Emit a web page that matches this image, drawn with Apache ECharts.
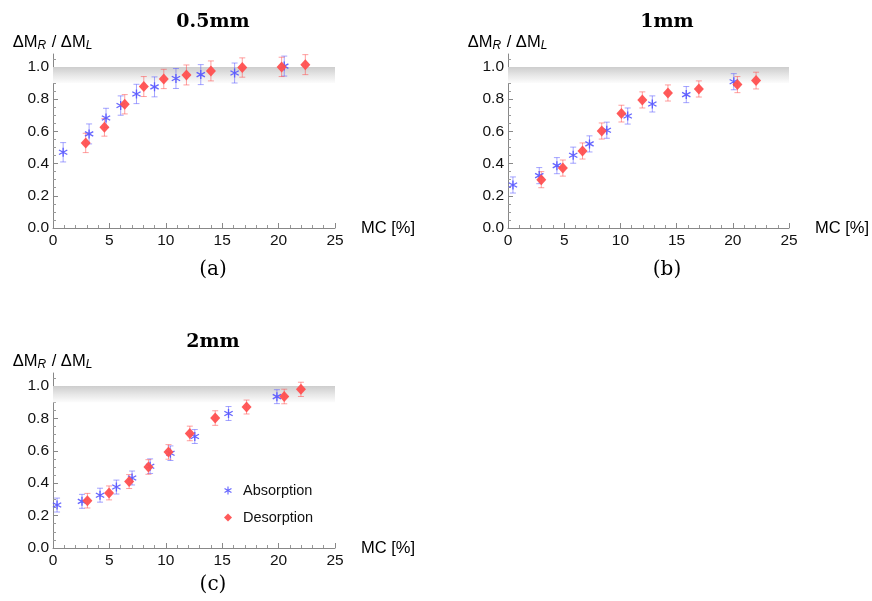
<!DOCTYPE html>
<html>
<head>
<meta charset="utf-8">
<script src="https://cdn.jsdelivr.net/npm/echarts@6/dist/echarts.min.js"></script>
<style>
  html, body { margin: 0; background: #fff; }
  #chart { width: 872px; height: 601px; }
</style>
</head>
<body>
<div id="chart"></div>
<script>
// panel text
const panelTitles = ['0.5mm', '1mm', '2mm']
const panelCaptions = ['(a)', '(b)', '(c)']
const yTickValues = [0, 0.2, 0.4, 0.6, 0.8, 1.0]
const bandRange = [0.9, 1.0]

// 0.5mm
const abs05X = [0.9, 3.2, 4.7, 6.0, 7.4, 9.0, 10.9, 13.1, 16.1, 20.5]
const abs05Y = [0.47, 0.584, 0.683, 0.76, 0.832, 0.876, 0.928, 0.952, 0.962, 1.005]
const abs05Err = [0.06, 0.062, 0.06, 0.06, 0.06, 0.062, 0.062, 0.062, 0.062, 0.062]
const des05X = [2.9, 4.56, 6.36, 8.05, 9.82, 11.83, 14.0, 16.78, 20.27, 22.37]
const des05Y = [0.528, 0.625, 0.768, 0.878, 0.925, 0.95, 0.975, 0.996, 1.0, 1.014]
const des05Err = [0.06, 0.055, 0.06, 0.062, 0.06, 0.062, 0.062, 0.06, 0.06, 0.062]

// 1mm
const abs1X = [0.44, 2.78, 4.35, 5.8, 7.25, 8.79, 10.65, 12.84, 15.86, 20.09]
const abs1Y = [0.267, 0.325, 0.387, 0.452, 0.522, 0.607, 0.695, 0.77, 0.828, 0.908]
const abs1Err = [0.05, 0.05, 0.05, 0.05, 0.05, 0.05, 0.05, 0.05, 0.05, 0.05]
const des1X = [2.96, 4.88, 6.63, 8.34, 10.09, 11.95, 14.23, 16.98, 20.41, 22.07]
const des1Y = [0.3, 0.372, 0.478, 0.602, 0.71, 0.795, 0.838, 0.863, 0.89, 0.915]
const des1Err = [0.05, 0.05, 0.05, 0.05, 0.052, 0.05, 0.05, 0.05, 0.05, 0.052]

// 2mm
const abs2X = [0.36, 2.57, 4.17, 5.62, 7.01, 8.61, 10.41, 12.57, 15.56, 19.85]
const abs2Y = [0.265, 0.288, 0.326, 0.376, 0.432, 0.505, 0.585, 0.688, 0.83, 0.934]
const abs2Err = [0.043, 0.043, 0.043, 0.043, 0.043, 0.045, 0.045, 0.043, 0.043, 0.043]
const des2X = [3.05, 4.97, 6.75, 8.46, 10.24, 12.13, 14.38, 17.16, 20.5, 21.98]
const des2Y = [0.292, 0.34, 0.41, 0.5, 0.593, 0.707, 0.802, 0.87, 0.935, 0.979]
const des2Err = [0.045, 0.043, 0.043, 0.045, 0.045, 0.045, 0.045, 0.043, 0.045, 0.044]

const panels = [
  { abs: [abs05X, abs05Y, abs05Err], des: [des05X, des05Y, des05Err] },
  { abs: [abs1X, abs1Y, abs1Err], des: [des1X, des1Y, des1Err] },
  { abs: [abs2X, abs2Y, abs2Err], des: [des2X, des2Y, des2Err] }
]

const grids = [
  { left: 53, top: 54, width: 282, height: 174 },
  { left: 508, top: 54, width: 281, height: 174 },
  { left: 53, top: 373, width: 282, height: 175 }
]

const blue = '#5555ff'
const red = '#ff5050'
const blueBar = 'rgba(90, 90, 255, 0.55)'
const redBar = 'rgba(255, 80, 80, 0.55)'
const starPath = 'path://M43,0 L57,0 L57,100 L43,100 Z M3.2,31.06 L10.2,18.94 L96.8,68.94 L89.8,81.06 Z M10.2,81.06 L3.2,68.94 L89.8,18.94 L96.8,31.06 Z'
const sans = 'Liberation Sans'

function zipRows(cols) {
  return cols[0].map((x, i) => [x, cols[1][i], cols[2][i]])
}

function errorBars(color) {
  return function (params, api) {
    const x = api.value(0)
    const y = api.value(1)
    const e = api.value(2)
    const top = api.coord([x, y + e])
    const bot = api.coord([x, y - e])
    const w = 3
    const style = { stroke: color, lineWidth: 1 }
    return {
      type: 'group',
      children: [
        { type: 'line', shape: { x1: top[0], y1: top[1], x2: bot[0], y2: bot[1] }, style },
        { type: 'line', shape: { x1: top[0] - w, y1: top[1], x2: top[0] + w, y2: top[1] }, style },
        { type: 'line', shape: { x1: bot[0] - w, y1: bot[1], x2: bot[0] + w, y2: bot[1] }, style }
      ]
    }
  }
}

const xAxis = grids.map((g, i) => ({
  gridIndex: i,
  type: 'value',
  min: 0,
  max: 25,
  interval: 5,
  name: 'MC [%]',
  nameLocation: 'end',
  nameGap: 26,
  nameTextStyle: { fontFamily: sans, fontSize: 16.5, color: '#000', align: 'left', verticalAlign: 'middle' },
  axisLine: { lineStyle: { color: '#888', width: 1 } },
  axisTick: { inside: true, length: 5, lineStyle: { color: '#888' } },
  minorTick: { show: true, splitNumber: 5, length: 3, lineStyle: { color: '#999' } },
  axisLabel: { fontFamily: sans, fontSize: 15.5, color: '#111', margin: 5 },
  splitLine: { show: false }
}))

const yAxis = grids.map((g, i) => ({
  gridIndex: i,
  type: 'value',
  min: 0,
  max: 1.08,
  interval: 0.2,
  name: '{t|ΔM}{s|R}{t| / ΔM}{s|L}',
  nameLocation: 'end',
  nameGap: 2,
  nameTextStyle: {
    align: 'center',
    rich: {
      t: { fontFamily: sans, fontSize: 16.5, color: '#000', lineHeight: 19 },
      s: { fontFamily: sans, fontSize: 12, fontStyle: 'italic', color: '#000', lineHeight: 10, verticalAlign: 'bottom', padding: [0, 1, 0, 0] }
    }
  },
  axisLine: { lineStyle: { color: '#888', width: 1 } },
  axisTick: { inside: true, length: 5, customValues: yTickValues, lineStyle: { color: '#888' } },
  minorTick: { show: true, splitNumber: 4, length: 3, lineStyle: { color: '#999' } },
  axisLabel: {
    fontFamily: sans, fontSize: 15.5, color: '#111', margin: 4,
    customValues: yTickValues,
    formatter: v => v.toFixed(1)
  },
  splitLine: { show: false }
}))

const series = []
panels.forEach((p, i) => {
  series.push({
    name: 'Absorption error',
    type: 'custom',
    xAxisIndex: i,
    yAxisIndex: i,
    renderItem: errorBars(blueBar),
    encode: { x: 0, y: 1 },
    data: zipRows(p.abs),
    z: 2,
    markArea: {
      silent: true,
      itemStyle: {
        color: new echarts.graphic.LinearGradient(0, 0, 0, 1, [
          { offset: 0, color: '#cdcdcd' },
          { offset: 0.5, color: '#e6e6e6' },
          { offset: 1, color: '#fcfcfc' }
        ])
      },
      data: [[{ xAxis: 0, yAxis: bandRange[1] }, { xAxis: 25, yAxis: bandRange[0] }]]
    }
  })
  series.push({
    name: 'Desorption error',
    type: 'custom',
    xAxisIndex: i,
    yAxisIndex: i,
    renderItem: errorBars(redBar),
    encode: { x: 0, y: 1 },
    data: zipRows(p.des),
    z: 2
  })
  series.push({
    name: 'Absorption',
    type: 'scatter',
    xAxisIndex: i,
    yAxisIndex: i,
    symbol: starPath,
    symbolSize: 9,
    itemStyle: { color: blue, opacity: 0.9 },
    data: p.abs[0].map((x, k) => [x, p.abs[1][k]]),
    z: 3
  })
  series.push({
    name: 'Desorption',
    type: 'scatter',
    xAxisIndex: i,
    yAxisIndex: i,
    symbol: 'diamond',
    symbolSize: [10, 11],
    itemStyle: { color: red, opacity: 0.95 },
    data: p.des[0].map((x, k) => [x, p.des[1][k]]),
    z: 3
  })
})

const titleCenters = [[213, 22], [667, 22], [213, 342]]
const captionCenters = [[213, 270], [667, 270], [213, 585]]
const graphic = []
titleCenters.forEach((c, i) => {
  graphic.push({
    type: 'text', x: c[0], y: c[1],
    style: { text: panelTitles[i], font: 'bold 19px "DejaVu Serif"', fill: '#000', align: 'center', verticalAlign: 'middle' }
  })
})
captionCenters.forEach((c, i) => {
  graphic.push({
    type: 'text', x: c[0], y: c[1],
    style: { text: panelCaptions[i], font: '20px "DejaVu Serif"', fill: '#000', align: 'center', verticalAlign: 'middle' }
  })
})

const chart = echarts.init(document.getElementById('chart'))
chart.setOption({
  backgroundColor: '#fff',
  animation: false,
  grid: grids,
  xAxis,
  yAxis,
  legend: {
    data: ['Absorption', 'Desorption'],
    orient: 'vertical',
    left: 219,
    top: 478,
    itemWidth: 8,
    itemHeight: 8,
    itemGap: 12,
    selectedMode: false,
    textStyle: { fontFamily: sans, fontSize: 14.5, color: '#111', padding: [0, 0, 0, 6] }
  },
  graphic,
  series
})
</script>
</body>
</html>
